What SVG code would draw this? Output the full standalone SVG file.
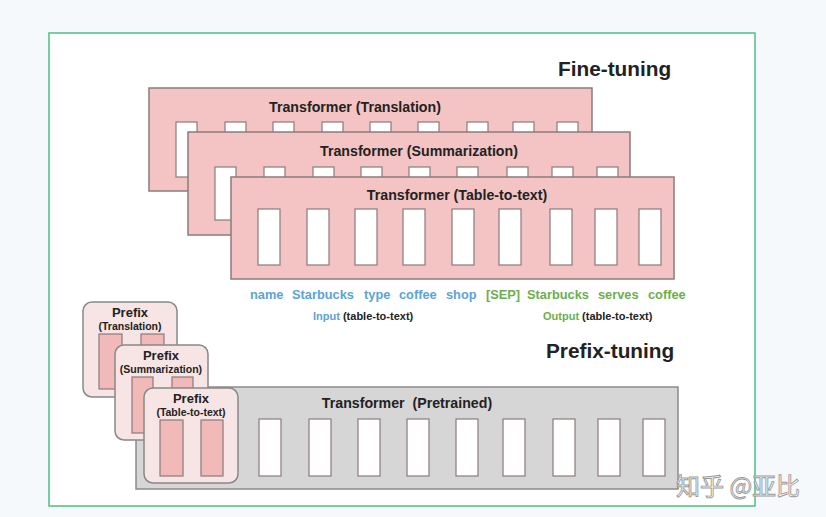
<svg xmlns="http://www.w3.org/2000/svg" width="826" height="517" viewBox="0 0 826 517">
<style>
.t{font-family:"Liberation Sans",Arial,sans-serif;font-weight:bold;fill:#222}
.big{font-size:20.8px}
.mid{font-size:14.2px}
.pf{font-size:13px}
.sm{font-size:11px}
.ps{font-size:10.5px}
.w{font-size:12.8px}
.blue{fill:#5ba4d8}
.green{fill:#6cae4e}
.pk{fill:#f3c4c3;stroke:#8a7b7b;stroke-width:1.5}
.gr{fill:#d6d6d6;stroke:#8a8a8a;stroke-width:1.5}
.tok{fill:#ffffff;stroke:#8a7b7b;stroke-width:1.2}
.pfx{fill:#f7e4e4;stroke:#888;stroke-width:1.5}
.ptok{fill:#f1b9b8;stroke:#8a7b7b;stroke-width:1.2}
</style>
<rect x="0" y="0" width="826" height="517" fill="#f6f9fb"/>
<rect x="49" y="33" width="706" height="473" fill="#ffffff" stroke="#4cc083" stroke-width="1.5"/>
<text class="t big" x="558" y="76">Fine-tuning</text>
<text class="t big" x="546" y="358">Prefix-tuning</text>

<g id="ft-translation">
<rect class="pk" x="149" y="88" width="443" height="103"/>
<text class="t mid" x="355" y="112" text-anchor="middle">Transformer (Translation)</text>
<rect class="tok" x="176" y="122" width="21" height="55"/>
<rect class="tok" x="225" y="122" width="21" height="20"/>
<rect class="tok" x="273" y="122" width="21" height="20"/>
<rect class="tok" x="322" y="122" width="21" height="20"/>
<rect class="tok" x="370" y="122" width="21" height="20"/>
<rect class="tok" x="418" y="122" width="21" height="20"/>
<rect class="tok" x="467" y="122" width="21" height="20"/>
<rect class="tok" x="513" y="122" width="21" height="20"/>
<rect class="tok" x="557" y="122" width="21" height="20"/>
</g>

<g id="ft-summarization">
<rect class="pk" x="188" y="132" width="442" height="103"/>
<text class="t mid" x="419" y="156" text-anchor="middle">Transformer (Summarization)</text>
<rect class="tok" x="215" y="167" width="21" height="53"/>
<rect class="tok" x="264" y="167" width="21" height="20"/>
<rect class="tok" x="313" y="167" width="21" height="20"/>
<rect class="tok" x="361" y="167" width="21" height="20"/>
<rect class="tok" x="409" y="167" width="21" height="20"/>
<rect class="tok" x="457" y="167" width="21" height="20"/>
<rect class="tok" x="507" y="167" width="21" height="20"/>
<rect class="tok" x="552" y="167" width="21" height="20"/>
<rect class="tok" x="597" y="167" width="21" height="20"/>
</g>

<g id="ft-table">
<rect class="pk" x="231" y="177" width="443" height="102"/>
<text class="t mid" x="457" y="200" text-anchor="middle">Transformer (Table-to-text)</text>
<rect class="tok" x="258" y="209" width="22" height="56"/>
<rect class="tok" x="307" y="209" width="22" height="56"/>
<rect class="tok" x="355" y="209" width="22" height="56"/>
<rect class="tok" x="403" y="209" width="22" height="56"/>
<rect class="tok" x="452" y="209" width="22" height="56"/>
<rect class="tok" x="499" y="209" width="22" height="56"/>
<rect class="tok" x="550" y="209" width="22" height="56"/>
<rect class="tok" x="595" y="209" width="22" height="56"/>
<rect class="tok" x="639" y="209" width="22" height="56"/>
</g>

<g id="sequence">
<text class="t w blue" x="250" y="299">name</text>
<text class="t w blue" x="292" y="299">Starbucks</text>
<text class="t w blue" x="364" y="299">type</text>
<text class="t w blue" x="399" y="299">coffee</text>
<text class="t w blue" x="446" y="299">shop</text>
<text class="t w green" x="486" y="299">[SEP]</text>
<text class="t w green" x="527" y="299">Starbucks</text>
<text class="t w green" x="598" y="299">serves</text>
<text class="t w green" x="648" y="299">coffee</text>
<text class="t sm" x="313" y="320"><tspan class="blue">Input</tspan> (table-to-text)</text>
<text class="t sm" x="543" y="320"><tspan class="green">Output</tspan> (table-to-text)</text>
</g>

<g id="pretrained">
<rect class="gr" x="136" y="387" width="542" height="102"/>
<text class="t mid" x="407" y="408" text-anchor="middle" xml:space="preserve">Transformer  (Pretrained)</text>
<rect class="tok" x="259" y="419" width="22" height="57"/>
<rect class="tok" x="309" y="419" width="22" height="57"/>
<rect class="tok" x="358" y="419" width="22" height="57"/>
<rect class="tok" x="407" y="419" width="22" height="57"/>
<rect class="tok" x="456" y="419" width="22" height="57"/>
<rect class="tok" x="503" y="419" width="22" height="57"/>
<rect class="tok" x="553" y="419" width="22" height="57"/>
<rect class="tok" x="598" y="419" width="22" height="57"/>
<rect class="tok" x="643" y="419" width="22" height="57"/>
</g>

<g id="prefix-translation">
<rect class="pfx" x="83" y="302" width="94" height="95" rx="9"/>
<text class="t pf" x="130" y="317" text-anchor="middle">Prefix</text>
<text class="t ps" x="130" y="330" text-anchor="middle">(Translation)</text>
<rect class="ptok" x="99" y="334" width="23" height="55"/>
<rect class="ptok" x="141" y="334" width="23" height="55"/>
</g>

<g id="prefix-summarization">
<rect class="pfx" x="115" y="345" width="93" height="95" rx="9"/>
<text class="t pf" x="161" y="360" text-anchor="middle">Prefix</text>
<text class="t ps" x="161" y="373" text-anchor="middle">(Summarization)</text>
<rect class="ptok" x="132" y="377" width="21" height="56"/>
<rect class="ptok" x="172" y="377" width="21" height="56"/>
</g>

<g id="prefix-table">
<rect class="pfx" x="144" y="388" width="94" height="95" rx="9"/>
<text class="t pf" x="191" y="403" text-anchor="middle">Prefix</text>
<text class="t ps" x="191" y="416" text-anchor="middle">(Table-to-text)</text>
<rect class="ptok" x="160" y="420" width="23" height="56"/>
<rect class="ptok" x="201" y="420" width="22" height="56"/>
</g>

<text x="676" y="495" font-family="'Noto Sans CJK SC',sans-serif" font-size="24" fill="#ffffff" stroke="#9a9a9a" stroke-width="0.9">知乎 @亚比</text>
</svg>
